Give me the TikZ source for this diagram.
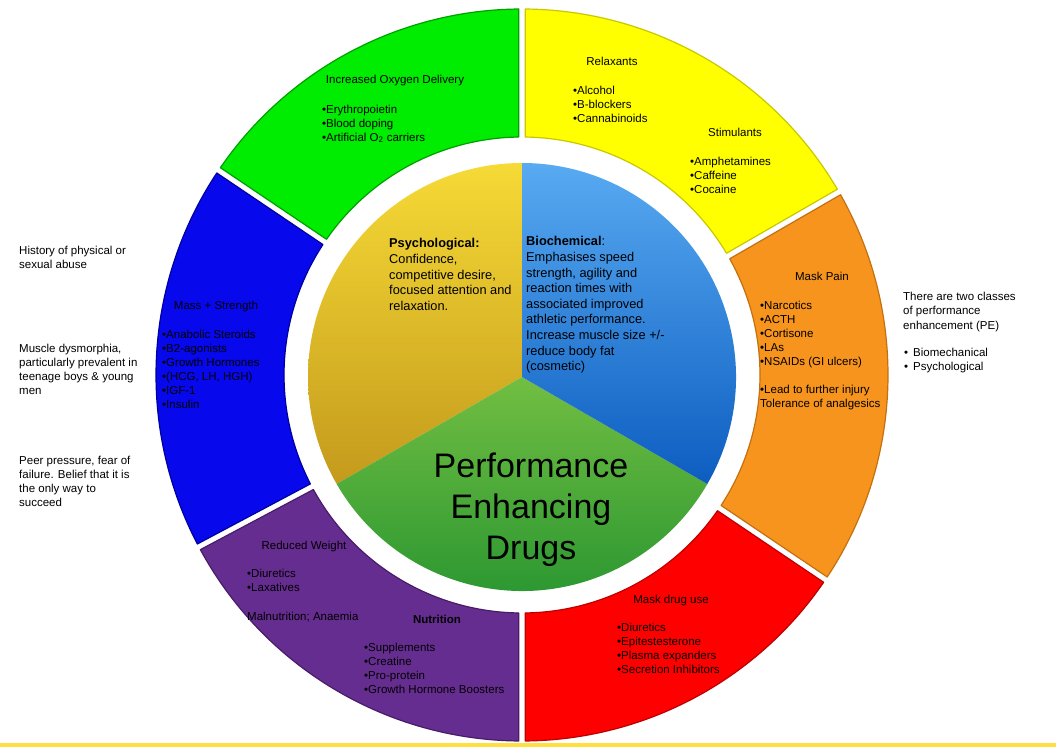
\documentclass[tikz,border=0pt]{standalone}
\usepackage{fontspec}
\setmainfont{Liberation Sans}
\usetikzlibrary{calc}
\definecolor{rgreen}{RGB}{0,236,0}
\definecolor{rgreenE}{RGB}{0,160,0}
\definecolor{ryellow}{RGB}{255,255,0}
\definecolor{ryellowE}{RGB}{200,200,0}
\definecolor{rorange}{RGB}{247,148,29}
\definecolor{rorangeE}{RGB}{196,112,16}
\definecolor{rred}{RGB}{255,0,0}
\definecolor{rredE}{RGB}{190,0,0}
\definecolor{rpurple}{RGB}{102,45,145}
\definecolor{rpurpleE}{RGB}{72,28,104}
\definecolor{rblue}{RGB}{8,8,236}
\definecolor{rblueE}{RGB}{0,0,160}
\definecolor{psyTop}{RGB}{246,218,54}
\definecolor{psyBot}{RGB}{196,154,28}
\definecolor{bioTop}{RGB}{88,170,242}
\definecolor{bioBot}{RGB}{12,93,192}
\definecolor{pegTop}{RGB}{114,190,66}
\definecolor{pegBot}{RGB}{35,147,47}
\definecolor{lineyellow}{RGB}{255,224,64}
\newcommand\ringseg[4]{%
  \filldraw[fill=#3, draw=#4, line width=1.2pt, line join=round]
    ($(O)+({#1+0.5}:366pt)$) arc[start angle={#1+0.5}, end angle={#2-0.5}, radius=366pt]
    -- ($(O)+({#2-0.77}:238pt)$) arc[start angle={#2-0.77}, end angle={#1+0.77}, radius=238pt] -- cycle;}
\tikzset{
  ringtxt/.style={font=\fontsize{11.5}{14}\selectfont, inner sep=0pt, align=left, anchor=north west},
  ringttl/.style={font=\fontsize{11.5}{14}\selectfont, inner sep=0pt, anchor=base},
  pietxt/.style={font=\fontsize{12.8}{15.6}\selectfont, inner sep=0pt, align=left, anchor=north west},
  sidetxt/.style={font=\fontsize{11.5}{14.5}\selectfont, inner sep=0pt, align=left, anchor=north west},
}
\begin{document}
\begin{tikzpicture}[x=1pt,y=1pt]
\useasboundingbox (0,0) rectangle (1056,750);
\fill[white] (0,0) rectangle (1056,750);
\coordinate (O) at (522,375);
\coordinate (P) at (522,373);
% outer ring
\ringseg{30}{90}{ryellow}{ryellowE}
\ringseg{90}{146}{rgreen}{rgreenE}
\ringseg{146}{208}{rblue}{rblueE}
\ringseg{208}{270}{rpurple}{rpurpleE}
\ringseg{270}{326}{rred}{rredE}
\ringseg{326}{390}{rorange}{rorangeE}
% pie
\shade[top color=psyTop, bottom color=psyBot] (P) -- ($(P)+(90:214pt)$) arc[start angle=90, end angle=210, radius=214pt] -- cycle;
\shade[top color=pegTop, bottom color=pegBot] (P) -- ($(P)+(210:214pt)$) arc[start angle=210, end angle=330, radius=214pt] -- cycle;
\shade[top color=bioTop, bottom color=bioBot] (P) -- ($(P)+(-30:214pt)$) arc[start angle=-30, end angle=90, radius=214pt] -- cycle;
% bottom line
\fill[lineyellow] (0,3.5) rectangle (1056,7.3);
% green segment
\node[ringttl] (oxyT) at (395,666) {Increased Oxygen Delivery};
\node[ringtxt] (oxyL) at (322,646.8) {\strut•Erythropoietin\\•Blood doping\\•Artificial O\textsubscript{2} carriers};
% yellow segment
\node[ringttl] (relT) at (612,684) {Relaxants};
\node[ringtxt] (relL) at (573,665.8) {\strut•Alcohol\\•B-blockers\\•Cannabinoids};
\node[ringttl] (stiT) at (735,613) {Stimulants};
\node[ringtxt] (stiL) at (690,594.8) {\strut•Amphetamines\\•Caffeine\\•Cocaine};
% orange segment
\node[ringttl] (painT) at (822,469) {Mask Pain};
\node[ringtxt] (painL) at (760,450.8) {\strut•Narcotics\\•ACTH\\•Cortisone\\•LAs\\•NSAIDs (GI ulcers)\\[14pt]•Lead to further injury\\Tolerance of analgesics};
% red segment
\node[ringttl] (maskT) at (671,147) {Mask drug use};
\node[ringtxt] (maskL) at (617,128.8) {\strut•Diuretics\\•Epitestesterone\\•Plasma expanders\\•Secretion Inhibitors};
% purple segment
\node[ringttl] (wtT) at (304,201) {Reduced Weight};
\node[ringtxt] (wtL) at (247,182.8) {\strut•Diuretics\\•Laxatives};
\node[ringttl, anchor=base west] (malN) at (247,130) {Malnutrition; Anaemia};
\node[ringttl] (nutT) at (437,127) {\textbf{Nutrition}};
\node[ringtxt] (nutL) at (364,108.8) {\strut•Supplements\\•Creatine\\•Pro-protein\\•Growth Hormone Boosters};
% blue segment
\node[ringttl] (massT) at (216,440) {Mass + Strength};
\node[ringtxt] (massL) at (162,421.8) {\strut•Anabolic Steroids\\•B2-agonists\\•Growth Hormones\\•(HCG, LH, HGH)\\•IGF-1\\•Insulin};
% pie texts
\node[pietxt] (psy) at (389,513.3) {\strut\textbf{Psychological:}\\Confidence,\\competitive desire,\\focused attention and\\relaxation.};
\node[pietxt] (bio) at (526,515.3) {\strut\textbf{Biochemical}:\\Emphasises speed\\strength, agility and\\reaction times with\\associated improved\\athletic performance.\\Increase muscle size +/-\\reduce body fat\\(cosmetic)};
\node[font=\fontsize{34}{41}\selectfont, align=center, anchor=north, inner sep=0pt] (pedT) at (531,301.7) {\strut Performance\\Enhancing\\Drugs};
% side texts
\node[ringtxt] (hist) at (19,505.8) {\strut History of physical or\\sexual abuse};
\node[ringtxt] (musc) at (19,407.8) {\strut Muscle dysmorphia,\\particularly prevalent in\\teenage boys \& young\\men};
\node[ringtxt] (peer) at (19,295.8) {\strut Peer pressure, fear of\\failure. Belief that it is\\the only way to\\succeed};
\node[sidetxt] (two) at (903,460) {\strut There are two classes\\of performance\\enhancement (PE)};
\node[sidetxt] (twoL) at (904,404) {\strut•\hspace{5pt}Biomechanical\\•\hspace{5pt}Psychological};
\end{tikzpicture}
\end{document}
